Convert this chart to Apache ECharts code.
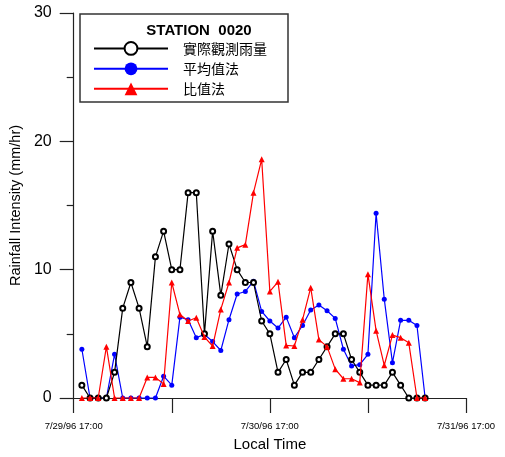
<!DOCTYPE html>
<html>
<head>
<meta charset="utf-8">
<script src="https://cdn.jsdelivr.net/npm/echarts@6/dist/echarts.min.js"></script>
<style>html,body{margin:0;padding:0;background:#fff;}#c{width:505px;height:457px;}</style>
</head>
<body>
<div id="c"></div>
<script>
// Hours after 7/29/96 17:00
const hours = [1,2,3,4,5,6,7,8,9,10,11,12,13,14,15,16,17,18,19,20,21,22,23,24,25,26,27,28,29,30,31,32,33,34,35,36,37,38,39,40,41,42,43];
const observed = [1,0,0,0,2,7,9,7,4,11,13,10,10,16,16,5,13,8,12,10,9,9,6,5,2,3,1,2,2,3,4,5,5,3,2,1,1,1,2,1,0,0,0];
const meanMethod = [3.8,0,0,0,3.4,0,0,0,0,0,1.7,1.0,6.3,6.1,4.7,4.95,4.4,3.7,6.1,8.1,8.3,9.1,6.75,6.0,5.45,6.3,4.7,5.65,6.85,7.25,6.8,6.2,3.8,2.5,2.6,3.4,14.4,7.7,2.75,6.05,6.05,5.65,0];
const ratioMethod = [0,0,0,4.0,0,0,0,0,1.6,1.6,1.1,9.0,6.5,6.0,6.25,4.75,4.05,6.9,9.0,11.7,11.95,16.0,18.6,8.3,9.05,4.1,4.05,6.1,8.6,4.55,4.0,2.25,1.5,1.5,1.2,9.65,5.25,2.55,4.9,4.7,4.3,0,0];
const seriesNames = ['實際觀測雨量','平均值法','比值法'];
const xTickLabels = ['7/29/96 17:00','','7/30/96 17:00','','7/31/96 17:00'];
const yTicks = [0,10,20,30];
const stationTitle = 'STATION  0020';

function pairs(vals){ return hours.map((h,i)=>[h, vals[i]]); }

const chart = echarts.init(document.getElementById('c'), null, {renderer:'canvas'});
chart.setOption({
  animation:false,
  backgroundColor:'#fff',
  grid:{left:73, right:39, top:13, bottom:59, containLabel:false},
  xAxis:{
    type:'value', min:0, max:48, interval:12,
    name:'Local Time', nameLocation:'middle', nameGap:39,
    nameTextStyle:{fontFamily:'Liberation Sans, Arial', fontSize:15, color:'#000'},
    axisLine:{lineStyle:{color:'#222', width:1.2}},
    axisTick:{show:true, inside:false, length:15, lineStyle:{color:'#222', width:1.2}},
    axisLabel:{margin:23, fontFamily:'Liberation Sans, Arial', fontSize:9.5, color:'#000',
      formatter:function(v){ return xTickLabels[Math.round(v/12)] || ''; }},
    splitLine:{show:false}
  },
  yAxis:{
    type:'value', min:yTicks[0], max:yTicks[yTicks.length-1], interval:10,
    name:'Rainfall Intensity (mm/hr)', nameLocation:'middle', nameGap:44,
    nameTextStyle:{fontFamily:'Liberation Sans, Arial', fontSize:14.5, color:'#000'},
    axisLine:{show:true, lineStyle:{color:'#222', width:1.2}},
    axisTick:{show:true, inside:false, length:14, lineStyle:{color:'#222', width:1.2}},
    minorTick:{show:true, splitNumber:2, length:7, lineStyle:{color:'#222', width:1.2}},
    axisLabel:{margin:22, fontFamily:'Liberation Sans, Arial', fontSize:16, color:'#000'},
    splitLine:{show:false}
  },
  legend:{
    orient:'vertical', left:93, top:41, padding:0, itemWidth:74, itemHeight:16, itemGap:6,
    data:seriesNames,
    selectedMode:false,
    textStyle:{fontFamily:'Noto Sans CJK TC', fontSize:14, color:'#000', padding:[0,0,3,10]}
  },
  graphic:[
    {type:'rect', z:-1, shape:{x:80, y:14, width:208, height:88}, style:{fill:'#fff', stroke:'#333', lineWidth:1.5}},
    {type:'text', x:199, y:31, style:{text:stationTitle, fontFamily:'Liberation Sans, Arial', fontWeight:'bold', fontSize:15, fill:'#000', align:'center', verticalAlign:'middle'}}
  ],
  series:[
    {name:seriesNames[0], type:'line', data:pairs(observed), symbol:'emptyCircle', symbolSize:5,
      lineStyle:{color:'#000', width:1.2}, itemStyle:{color:'#000', borderWidth:1.4}, z:3},
    {name:seriesNames[1], type:'line', data:pairs(meanMethod), symbol:'circle', symbolSize:5,
      lineStyle:{color:'#0000ff', width:1.2}, itemStyle:{color:'#0000ff'}, z:2},
    {name:seriesNames[2], type:'line', data:pairs(ratioMethod), symbol:'triangle', symbolSize:6,
      lineStyle:{color:'#ff0000', width:1.2}, itemStyle:{color:'#ff0000'}, z:4}
  ]
});
</script>
</body>
</html>
